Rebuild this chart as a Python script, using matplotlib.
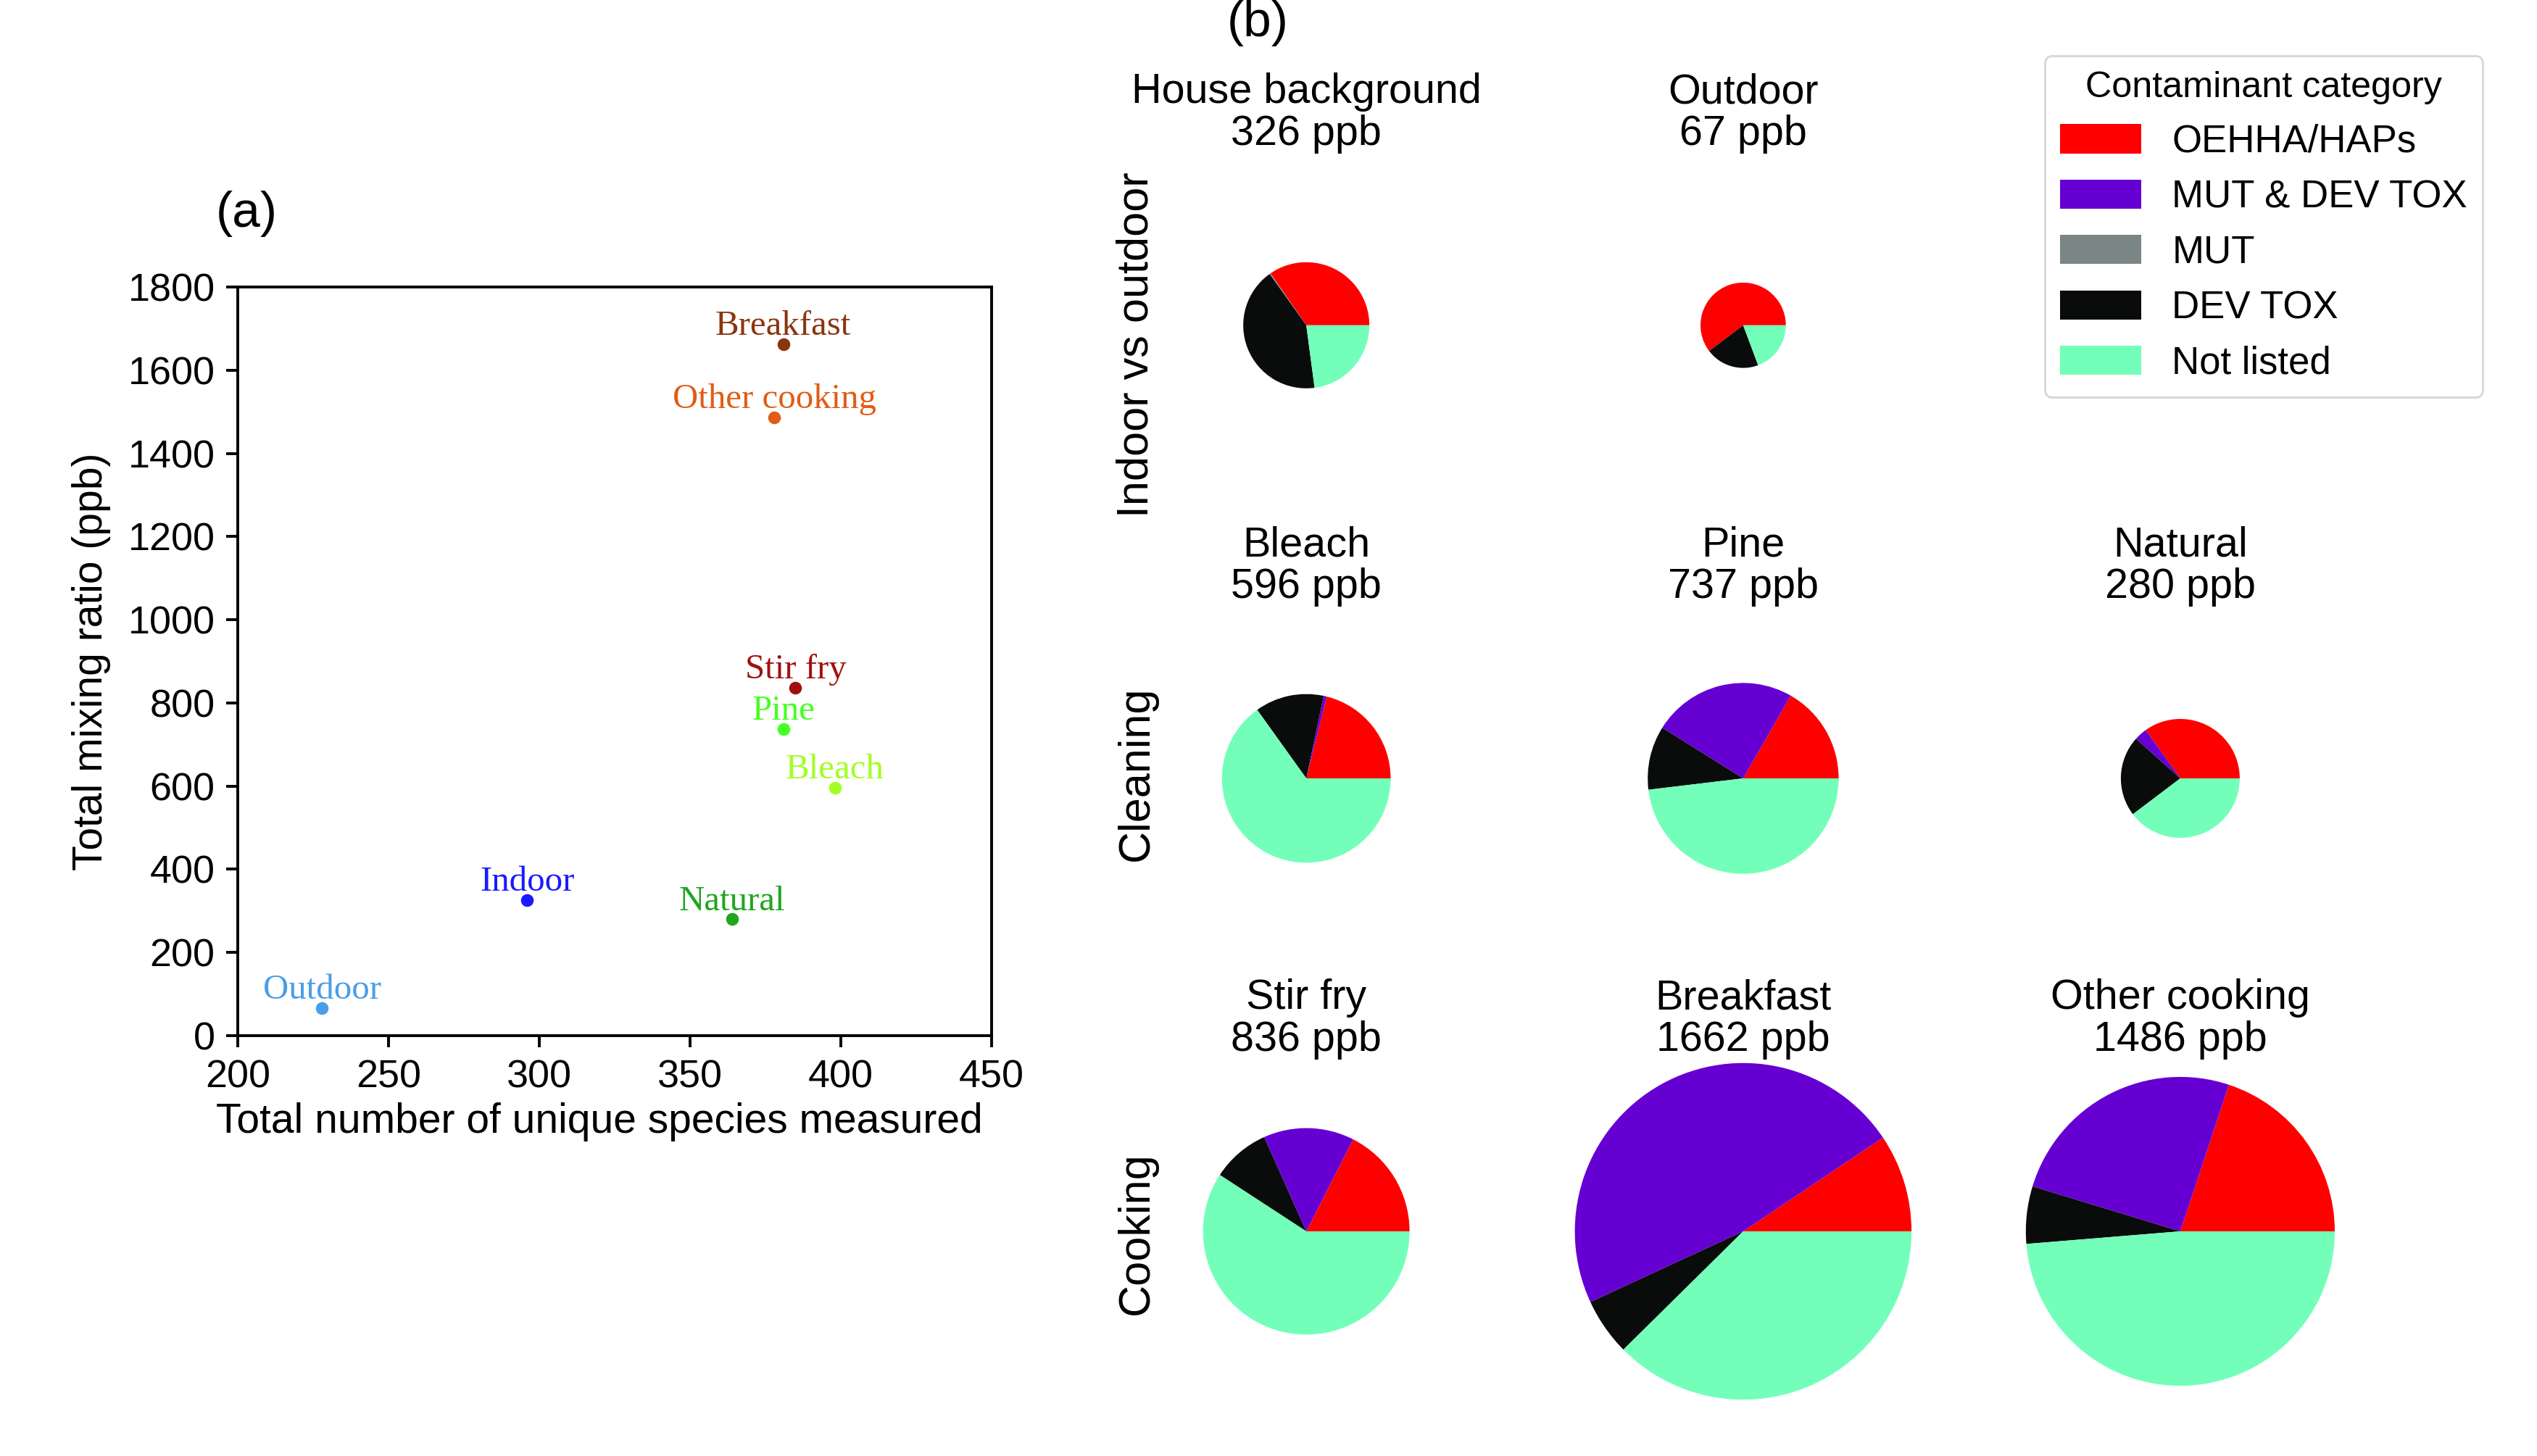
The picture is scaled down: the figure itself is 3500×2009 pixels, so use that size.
import matplotlib
matplotlib.use("Agg")
import matplotlib.pyplot as plt
from matplotlib.patches import Patch

plt.rcParams['font.family'] = ['Liberation Sans', 'DejaVu Sans']

# ---------------- data ----------------
# panel (a)
scatter_names = ["Outdoor", "Indoor", "Natural", "Bleach", "Pine", "Stir fry", "Other cooking", "Breakfast"]
scatter_species = [228, 296, 364, 398, 381, 385, 378, 381]
scatter_total = [67, 326, 280, 596, 737, 836, 1486, 1662]
scatter_colors = ["#4a9ee6", "#1a1aff", "#1fa61f", "#a0ff20", "#44ff22", "#a01010", "#e25c14", "#8b3510"]

# panel (b)
categories = ["OEHHA/HAPs", "MUT & DEV TOX", "MUT", "DEV TOX", "Not listed"]
cat_colors = ["#ff0000", "#6600d2", "#7a8686", "#0a0c0c", "#73ffb9"]

pie_names = ["House background", "Outdoor", "Bleach", "Pine", "Natural", "Stir fry", "Breakfast", "Other cooking"]
pie_totals = [326, 67, 596, 737, 280, 836, 1662, 1486]
# percent share per category, in pie order
oehha = [34.6, 60.3, 21.1, 16.7, 34.9, 17.5, 9.4, 19.9]
mut_dev = [0.0, 0.0, 0.6, 24.4, 3.5, 14.2, 47.5, 25.4]
mut = [0.3, 0.0, 0.0, 0.0, 0.0, 0.0, 0.0, 0.0]
dev_tox = [42.2, 20.4, 13.2, 10.8, 21.9, 9.1, 5.5, 6.0]
not_listed = [22.9, 19.3, 65.1, 48.1, 39.7, 59.2, 37.6, 48.7]

row_labels = ["Indoor vs outdoor", "Cleaning", "Cooking"]
pie_cells = [(0, 0), (0, 1), (1, 0), (1, 1), (1, 2), (2, 0), (2, 1), (2, 2)]

# ---------------- figure ----------------
fig = plt.figure(figsize=(17.5, 10.045), dpi=200)

# panel (a)
ax = fig.add_axes([0.0937, 0.2887, 0.2971, 0.5142])
for n, xs, ys, c in zip(scatter_names, scatter_species, scatter_total, scatter_colors):
    ax.scatter([xs], [ys], s=40, color=c, zorder=3, linewidths=0)
    ax.annotate(n, (xs, ys), xytext=(0, 1), textcoords='offset points',
                ha='center', va='bottom', color=c, fontsize=17.6,
                family=['Liberation Serif', 'DejaVu Serif'])
ax.set_xlim(200, 450)
ax.set_ylim(0, 1800)
ax.set_xticks(range(200, 451, 50))
ax.set_yticks(range(0, 1801, 200))
ax.tick_params(labelsize=19.4, length=5.75, width=1.4, direction='out')
ax.tick_params(axis='y', pad=5.5)
ax.tick_params(axis='x', pad=6)
for s in ax.spines.values():
    s.set_linewidth(1.4)
ax.set_xlabel("Total number of unique species measured", fontsize=20.5)
ax.xaxis.set_label_coords(0.48, -0.089)
ax.set_ylabel("Total mixing ratio (ppb)", fontsize=20.5, labelpad=8.5)
fig.text(0.0971, 0.853, "(a)", fontsize=25, ha='center', va='center')

# panel (b)
col_x = [0.5149, 0.6871, 0.8594]
row_y = [0.7766, 0.4654, 0.1543]
cw, ch = 0.1722, 0.3111
R0, RK = 23.1, 0.0487
for i, (r, c) in enumerate(pie_cells):
    pax = fig.add_axes([col_x[c] - cw / 2, row_y[r] - ch / 2, cw, ch])
    vals = [oehha[i], mut_dev[i], mut[i], dev_tox[i], not_listed[i]]
    rad = R0 + RK * pie_totals[i]
    pax.pie(vals, colors=cat_colors, startangle=0, counterclock=True,
            radius=rad, center=(0, 0), wedgeprops=dict(linewidth=0),
            normalize=True)
    pax.set_xlim(-135, 135)
    pax.set_ylim(-140, 140)
    pax.set_aspect('equal', adjustable='box')
    pax.axis('off')
    pax.text(0, 106, f"{pie_names[i]}\n{pie_totals[i]} ppb", ha='center', va='bottom',
             fontsize=20.7, linespacing=1.1)

row_label_y = [0.7633, 0.4689, 0.1531]
for r, lab in enumerate(row_labels):
    fig.text(0.448, row_label_y[r], lab, rotation=90, fontsize=22,
             ha='center', va='center')

fig.text(0.4959, 0.984, "(b)", fontsize=25, ha='center', va='center')

handles = [Patch(facecolor=cc, edgecolor='none', label=lb) for cc, lb in zip(cat_colors, categories)]
fig.legend(handles=handles, title="Contaminant category", loc='upper right',
           bbox_to_anchor=(0.9786, 0.9615), fontsize=19, title_fontsize=18.1,
           handlelength=2.13, handleheight=0.79, labelspacing=0.5,
           borderpad=0.4, handletextpad=0.8, borderaxespad=0, frameon=True)

fig.savefig("out.png", dpi=200)
